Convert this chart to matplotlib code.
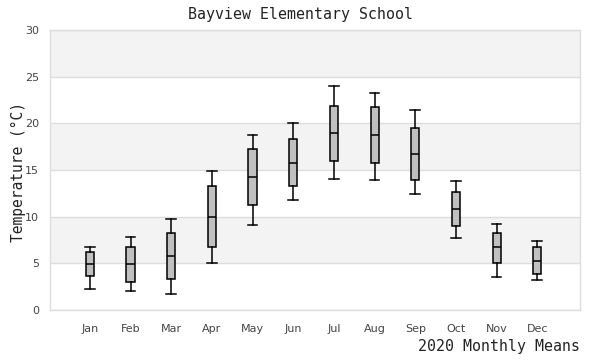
import matplotlib
matplotlib.use("Agg")
import matplotlib.pyplot as plt

months = ["Jan", "Feb", "Mar", "Apr", "May", "Jun", "Jul", "Aug", "Sep", "Oct", "Nov", "Dec"]
whisker_low = [2.2, 2.0, 1.7, 5.0, 9.1, 11.8, 14.0, 13.9, 12.4, 7.7, 3.5, 3.2]
q1 = [3.6, 3.0, 3.3, 6.8, 11.2, 13.3, 16.0, 15.8, 13.9, 9.0, 5.0, 3.9]
median = [4.9, 4.9, 5.8, 10.0, 14.2, 15.7, 19.0, 18.7, 16.7, 10.8, 6.7, 5.3]
q3 = [6.2, 6.7, 8.2, 13.3, 17.2, 18.3, 21.9, 21.7, 19.5, 12.6, 8.3, 6.7]
whisker_high = [6.7, 7.8, 9.8, 14.9, 18.7, 20.0, 24.0, 23.3, 21.4, 13.8, 9.2, 7.4]
yticks = [0, 5, 10, 15, 20, 25, 30]

fig = plt.figure(figsize=(6, 3.6), dpi=100)
ax = fig.add_axes([50/600, 1-310/360, 530/600, 280/360])

# bands
for i in range(len(yticks) - 1):
    if i % 2 == 1:
        ax.axhspan(yticks[i], yticks[i+1], color="#f3f3f3", zorder=0, lw=0)
for y in yticks:
    ax.axhline(y, color="#dddddd", lw=1, zorder=1)

stats = []
for i, m in enumerate(months):
    stats.append(dict(label=m, whislo=whisker_low[i], q1=q1[i], med=median[i],
                      q3=q3[i], whishi=whisker_high[i], fliers=[]))
pos = list(range(1, len(months) + 1))
ax.bxp(stats, positions=pos, widths=0.2, patch_artist=True, showfliers=False,
       boxprops=dict(facecolor="#c0c0c0", edgecolor="black", linewidth=1.1),
       medianprops=dict(color="black", linewidth=1.1),
       whiskerprops=dict(color="black", linewidth=1.1),
       capprops=dict(color="black", linewidth=1.1),
       capwidths=0.24, zorder=3)

ax.set_xlim(0.02, 13.05)
ax.set_ylim(0, 30)
ax.set_yticks(yticks)
ax.set_xticks(pos)
ax.set_xticklabels(months)
ax.tick_params(axis="both", length=0, labelsize=8, labelcolor="#444444")
ax.tick_params(axis="x", pad=10)
ax.tick_params(axis="y", pad=8)
for s in ax.spines.values():
    s.set_color("#dddddd")
    s.set_linewidth(1)

fig.text(0.5, 1-14/360, "Bayview Elementary School", ha="center", va="center",
         fontsize=10.7, family="DejaVu Sans Mono", color="#222222")
fig.text(580/600, 1-347/360, "2020 Monthly Means", ha="right", va="center",
         fontsize=10.7, family="DejaVu Sans Mono", color="#222222")
fig.text(18/600, 1-172/360, "Temperature (°C)", ha="center", va="center",
         rotation=90, fontsize=10.5, family="DejaVu Sans Mono", color="#222222")

fig.savefig("out.png", dpi=100)
